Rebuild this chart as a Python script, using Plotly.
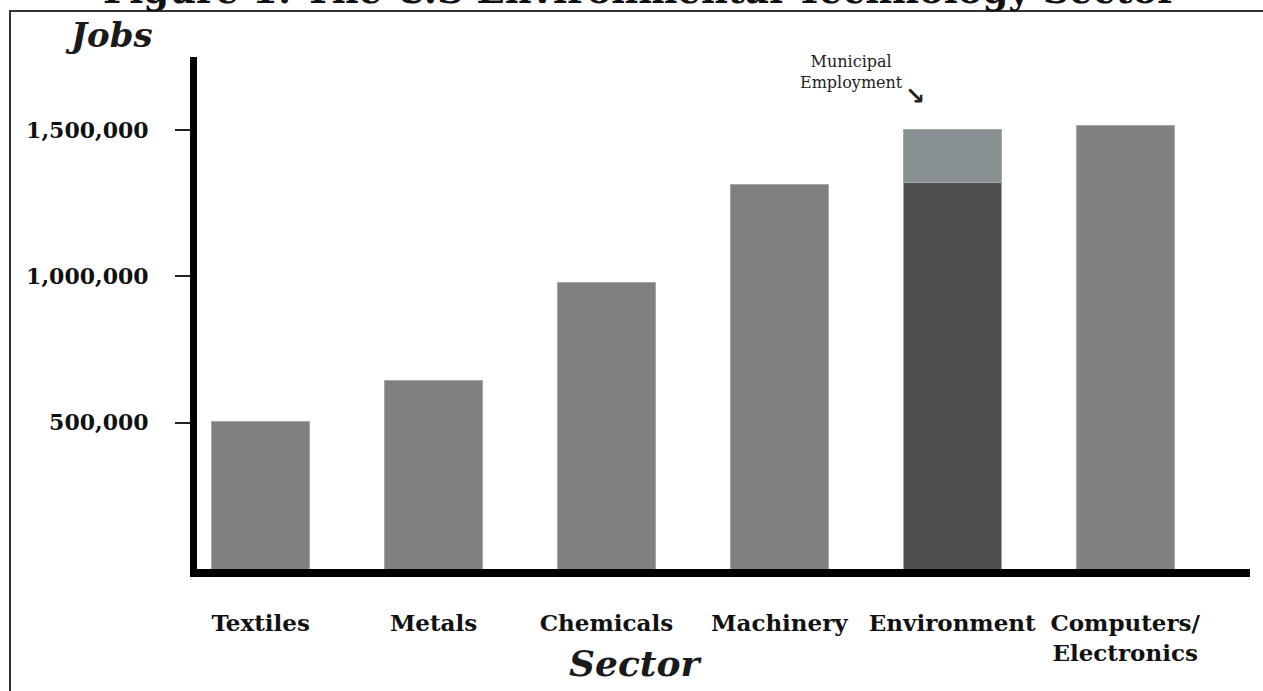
import plotly.graph_objects as go

# Employment by sector (jobs)
sectors = ["Textiles", "Metals", "Chemicals", "Machinery", "Environment", "Computers/Electronics"]
sector_labels = ["Textiles", "Metals", "Chemicals", "Machinery", "Environment", "Computers/<br>Electronics"]
jobs = [505000, 645000, 980000, 1315000, 1320000, 1515000]
municipal_jobs = [0, 0, 0, 0, 180000, 0]

y_tick_values = [500000, 1000000, 1500000]
y_tick_labels = ["500,000", "1,000,000", "1,500,000"]

SERIF = "DejaVu Serif"
W, H = 1263, 691
L, R, T, B = 197, 13, 57, 122

base_colors = ["#808080"] * len(sectors)
base_colors[sectors.index("Environment")] = "#4f4f4f"

fig = go.Figure()
fig.add_trace(go.Bar(
    x=sectors, y=jobs,
    marker=dict(color=base_colors, line=dict(color="#a6a6a6", width=1)),
    hoverinfo="x+y", showlegend=False,
))
fig.add_trace(go.Bar(
    x=sectors, y=municipal_jobs,
    marker=dict(color="#879093", line=dict(color="#a6a6a6", width=1)),
    hoverinfo="x+y", showlegend=False,
))

fig.update_layout(
    width=W, height=H,
    margin=dict(l=L, r=R, t=T, b=B, pad=0),
    paper_bgcolor="white", plot_bgcolor="white",
    barmode="stack", bargap=0.433,
    font=dict(family=SERIF, color="#111"),
    xaxis=dict(
        type="category", range=[-0.368, 5.722],
        tickmode="array", tickvals=sectors, ticktext=sector_labels,
        tickfont=dict(family=SERIF, size=23, color="#111", weight="bold"),
        ticks="", showgrid=False, zeroline=False,
        showline=True, linecolor="black", linewidth=8,
        ticklabelstandoff=26,
    ),
    yaxis=dict(
        range=[0, 1749000],
        tickmode="array", tickvals=y_tick_values, ticktext=y_tick_labels,
        tickfont=dict(family=SERIF, size=22, color="#111", weight="bold"),
        ticks="outside", ticklen=15, tickwidth=2, tickcolor="#222",
        showgrid=False, zeroline=False,
        showline=True, linecolor="black", linewidth=7,
        ticklabelstandoff=22,
    ),
)

# outer frame of the figure panel
fig.add_shape(type="rect", xref="paper", yref="paper",
              x0=(10 - L) / (W - L - R), x1=1.2,
              y0=-0.4, y1=(H - B - 11) / (H - T - B),
              line=dict(color="#333", width=2), fillcolor="rgba(0,0,0,0)", layer="below")

def px_to_paper_x(px):
    return (px - L) / (W - L - R)

def px_to_paper_y(py):
    return (H - B - py) / (H - T - B)

annotations = [
    dict(text="Figure 1: The U.S Environmental Technology Sector",
         x=px_to_paper_x(640), y=px_to_paper_y(14), xanchor="center", yanchor="bottom",
         font=dict(family=SERIF, size=37, color="#111", weight="bold")),
    dict(text="<i>Jobs</i>", x=px_to_paper_x(109), y=px_to_paper_y(35),
         xanchor="center", yanchor="middle",
         font=dict(family=SERIF, size=34, color="#1a1a1a", weight="bold")),
    dict(text="<i>Sector</i>", x=px_to_paper_x(635), y=px_to_paper_y(663),
         xanchor="center", yanchor="middle",
         font=dict(family=SERIF, size=36, color="#1a1a1a", weight="bold")),
    dict(text="Municipal<br>Employment", x=px_to_paper_x(851), y=px_to_paper_y(72),
         xanchor="center", yanchor="middle", align="center",
         font=dict(family=SERIF, size=16, color="#222")),
    dict(text="\u2198", x=px_to_paper_x(915), y=px_to_paper_y(96),
         xanchor="center", yanchor="middle",
         font=dict(family="DejaVu Sans", size=24, color="#222", weight="bold")),
]
for a in annotations:
    a.update(xref="paper", yref="paper", showarrow=False)
fig.update_layout(annotations=annotations)

fig.write_html("out.html")
